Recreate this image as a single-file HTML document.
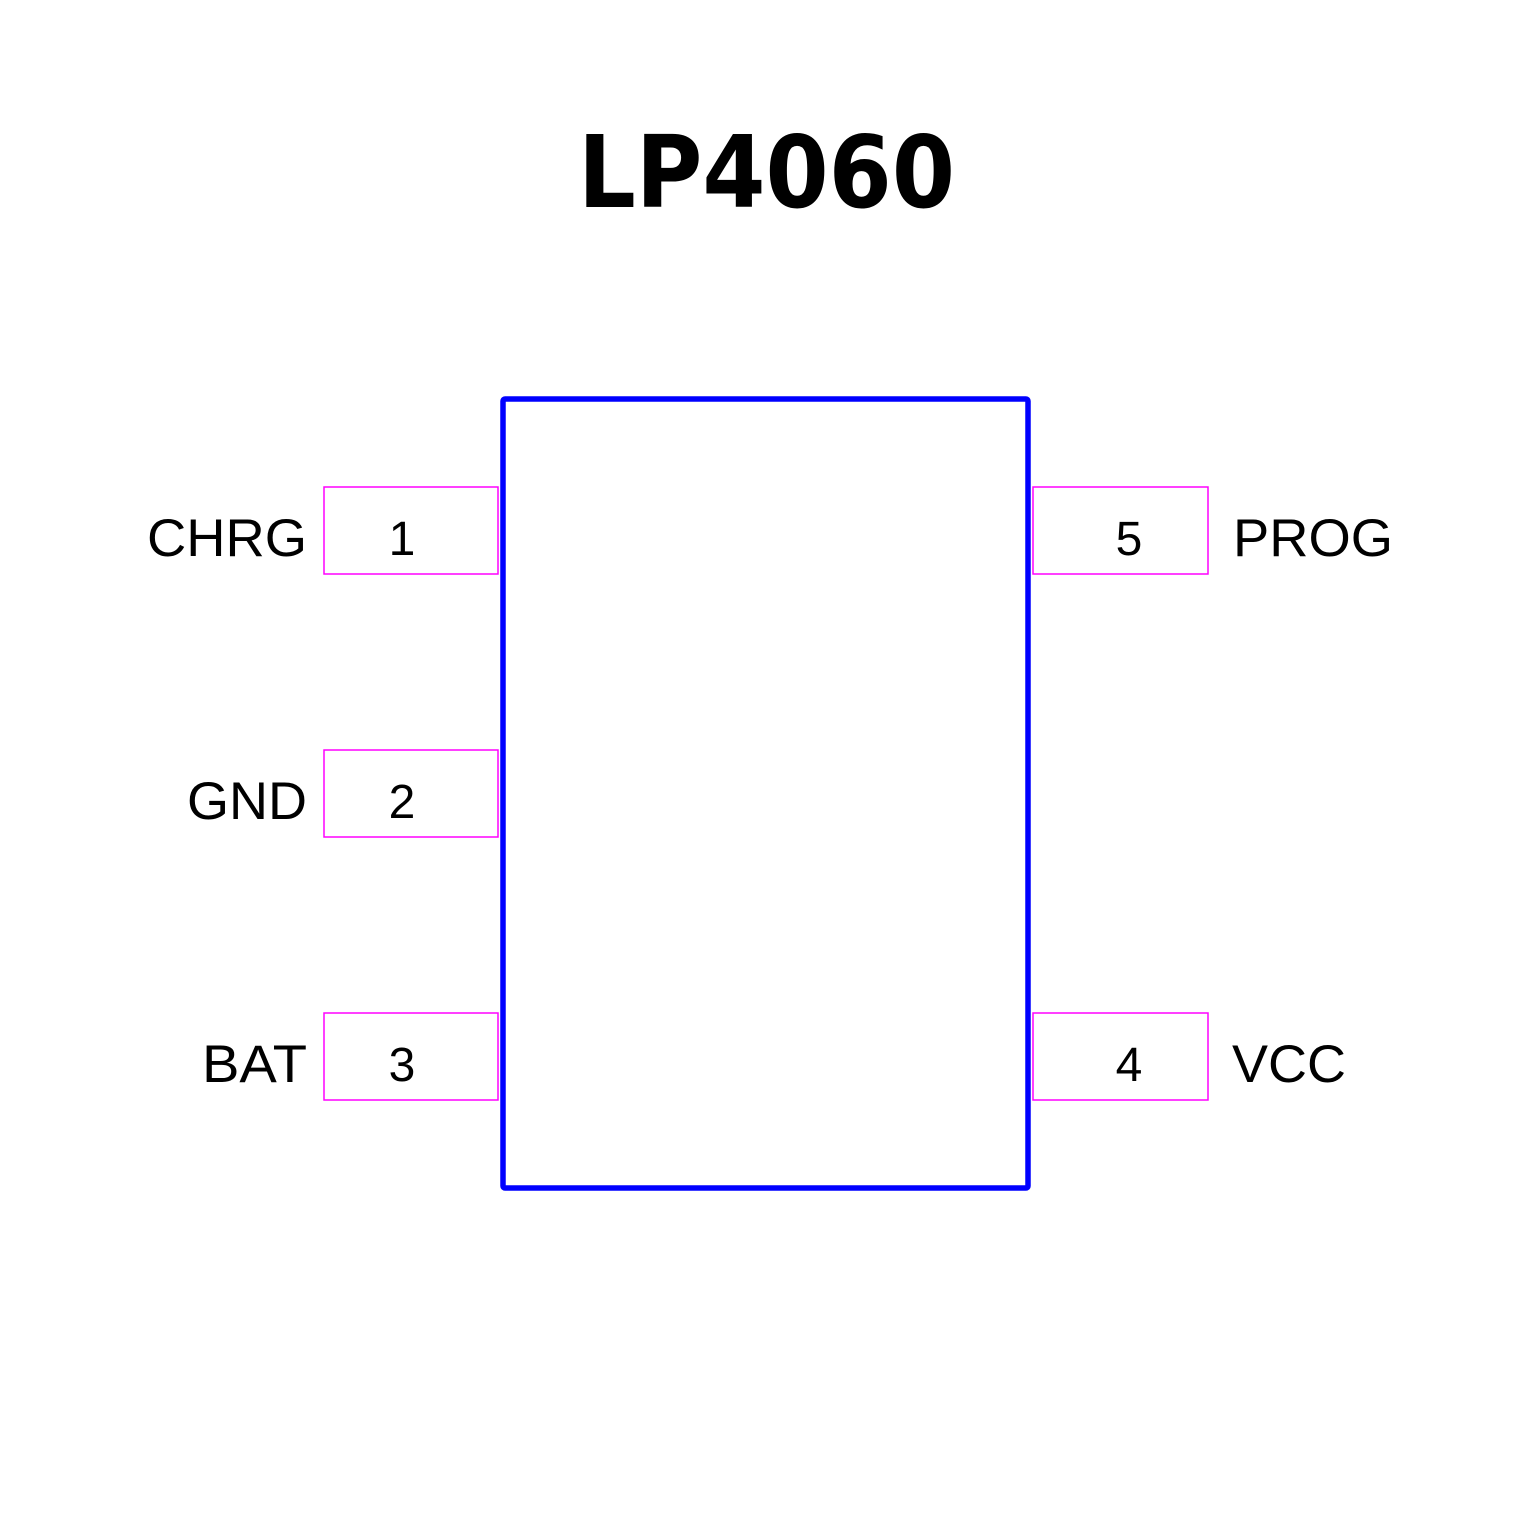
<!DOCTYPE html>
<html><head><meta charset="utf-8"><style>html,body{margin:0;padding:0;background:#fff}</style></head>
<body>
<svg width="1535" height="1535" xmlns="http://www.w3.org/2000/svg">
<rect width="1535" height="1535" fill="#fff"/>
<text x="578" y="207" font-family="DejaVu Sans, sans-serif" font-weight="bold" font-size="100" textLength="377" lengthAdjust="spacingAndGlyphs">LP4060</text>
<g fill="none" stroke="#ff00ff" stroke-width="1.5">
<rect x="324" y="487" width="174" height="87"/>
<rect x="324" y="750" width="174" height="87"/>
<rect x="324" y="1013" width="174" height="87"/>
<rect x="1033" y="487" width="175" height="87"/>
<rect x="1033" y="1013" width="175" height="87"/>
</g>
<rect x="503" y="399" width="525" height="789" fill="none" stroke="#0000ff" stroke-width="5.5" rx="2"/>
<g font-family="Liberation Sans, sans-serif" font-size="48" text-anchor="middle" fill="#000">
<text x="402" y="555">1</text>
<text x="402" y="818">2</text>
<text x="402" y="1081">3</text>
<text x="1129" y="555">5</text>
<text x="1129" y="1081">4</text>
</g>
<g font-family="Liberation Sans, sans-serif" font-size="53" fill="#000" lengthAdjust="spacingAndGlyphs">
<text x="147" y="556" textLength="160" lengthAdjust="spacingAndGlyphs">CHRG</text>
<text x="187" y="819" textLength="120" lengthAdjust="spacingAndGlyphs">GND</text>
<text x="202" y="1082" textLength="105" lengthAdjust="spacingAndGlyphs">BAT</text>
<text x="1233" y="556" textLength="160" lengthAdjust="spacingAndGlyphs">PROG</text>
<text x="1232" y="1082" textLength="114" lengthAdjust="spacingAndGlyphs">VCC</text>
</g>
</svg>
</body></html>
